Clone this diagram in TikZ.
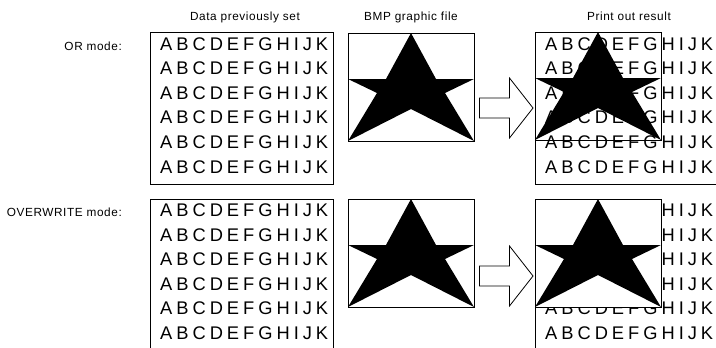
\documentclass[tikz,border=0pt]{standalone}
\usepackage{fontspec}
\setmainfont{Liberation Sans}
% one spaced-out line of sample characters
\newcommand\abcrow{\makebox[168pt]{A\hfill B\hfill C\hfill D\hfill E\hfill F\hfill G\hfill H\hfill I\hfill J\hfill K}}
\begin{document}
\begin{tikzpicture}[x=1pt,y=-1pt,
  frame/.style={draw=black, line width=1pt},
  lbl/.style={font=\fontsize{11.8}{13}\selectfont\addfontfeature{LetterSpace=5}, inner sep=0pt},
  abc/.style={font=\fontsize{18.3}{20}\selectfont, inner sep=0pt, anchor=base west},
  databox/.style={frame, minimum width=183pt, minimum height=152pt, anchor=north west, inner sep=0pt},
  bmpbox/.style={frame, minimum width=126pt, minimum height=108pt, anchor=north west, inner sep=0pt},
  bmpstar/.pic={\fill[black] (63,0) -- (88,46) -- (126,46) -- (97,60) -- (126,108)
      -- (63,76) -- (0,108) -- (29,60) -- (0,46) -- (38,46) -- cycle;},
  blockarrow/.pic={\draw[line width=0.8pt, fill=white, line join=miter]
      (0,0) -- (-23.5,-30) -- (-23.5,-10) -- (-53.5,-10) -- (-53.5,10)
      -- (-23.5,10) -- (-23.5,30) -- cycle;}
]
\useasboundingbox (0,0) rectangle (716,348);
\clip (0,0) rectangle (716,348);
\fill[white] (0,0) rectangle (716,348);

% column headings
\node[lbl, anchor=base] (hdata) at (245,20.5) {Data previously set};
\node[lbl, anchor=base] (hbmp) at (411,20.5) {BMP graphic file};
\node[lbl, anchor=base] (hres) at (629,20.5) {Print out result};

% row headings
\node[lbl, anchor=base east] (ormode) at (122,50.5) {OR mode:};
\node[lbl, anchor=base east] (owmode) at (122,216) {OVERWRITE mode:};

% ---------- OR mode ----------
\node[databox] (data1) at (150,32) {};
\foreach \i in {0,...,5} {
  \node[abc] (d1-\i) at (160,50+24.6*\i) {\abcrow};
  \node[abc] (r1-\i) at (545,50+24.6*\i) {\abcrow};
}
\node[bmpbox] (bmp1) at (348,33) {};
\pic at (348,33) {bmpstar};
\pic at (533,108) {blockarrow};
\draw[frame] (535,32) -- (535,184) -- (716,184);
\node[bmpbox] (res1) at (535,32) {};
\pic at (535,32) {bmpstar};

% ---------- OVERWRITE mode ----------
\node[databox] (data2) at (150,199) {};
\foreach \i in {0,...,5} {
  \node[abc] (d2-\i) at (160,216.5+24.6*\i) {\abcrow};
  \node[abc] (r2-\i) at (545,216.5+24.6*\i) {\abcrow};
}
\node[bmpbox] (bmp2) at (348,199) {};
\pic at (348,199) {bmpstar};
\pic at (533,276) {blockarrow};
\draw[frame] (535,199) -- (535,352);
\node[bmpbox, fill=white] (res2) at (535,199) {};
\pic at (535,199) {bmpstar};
\end{tikzpicture}
\end{document}
